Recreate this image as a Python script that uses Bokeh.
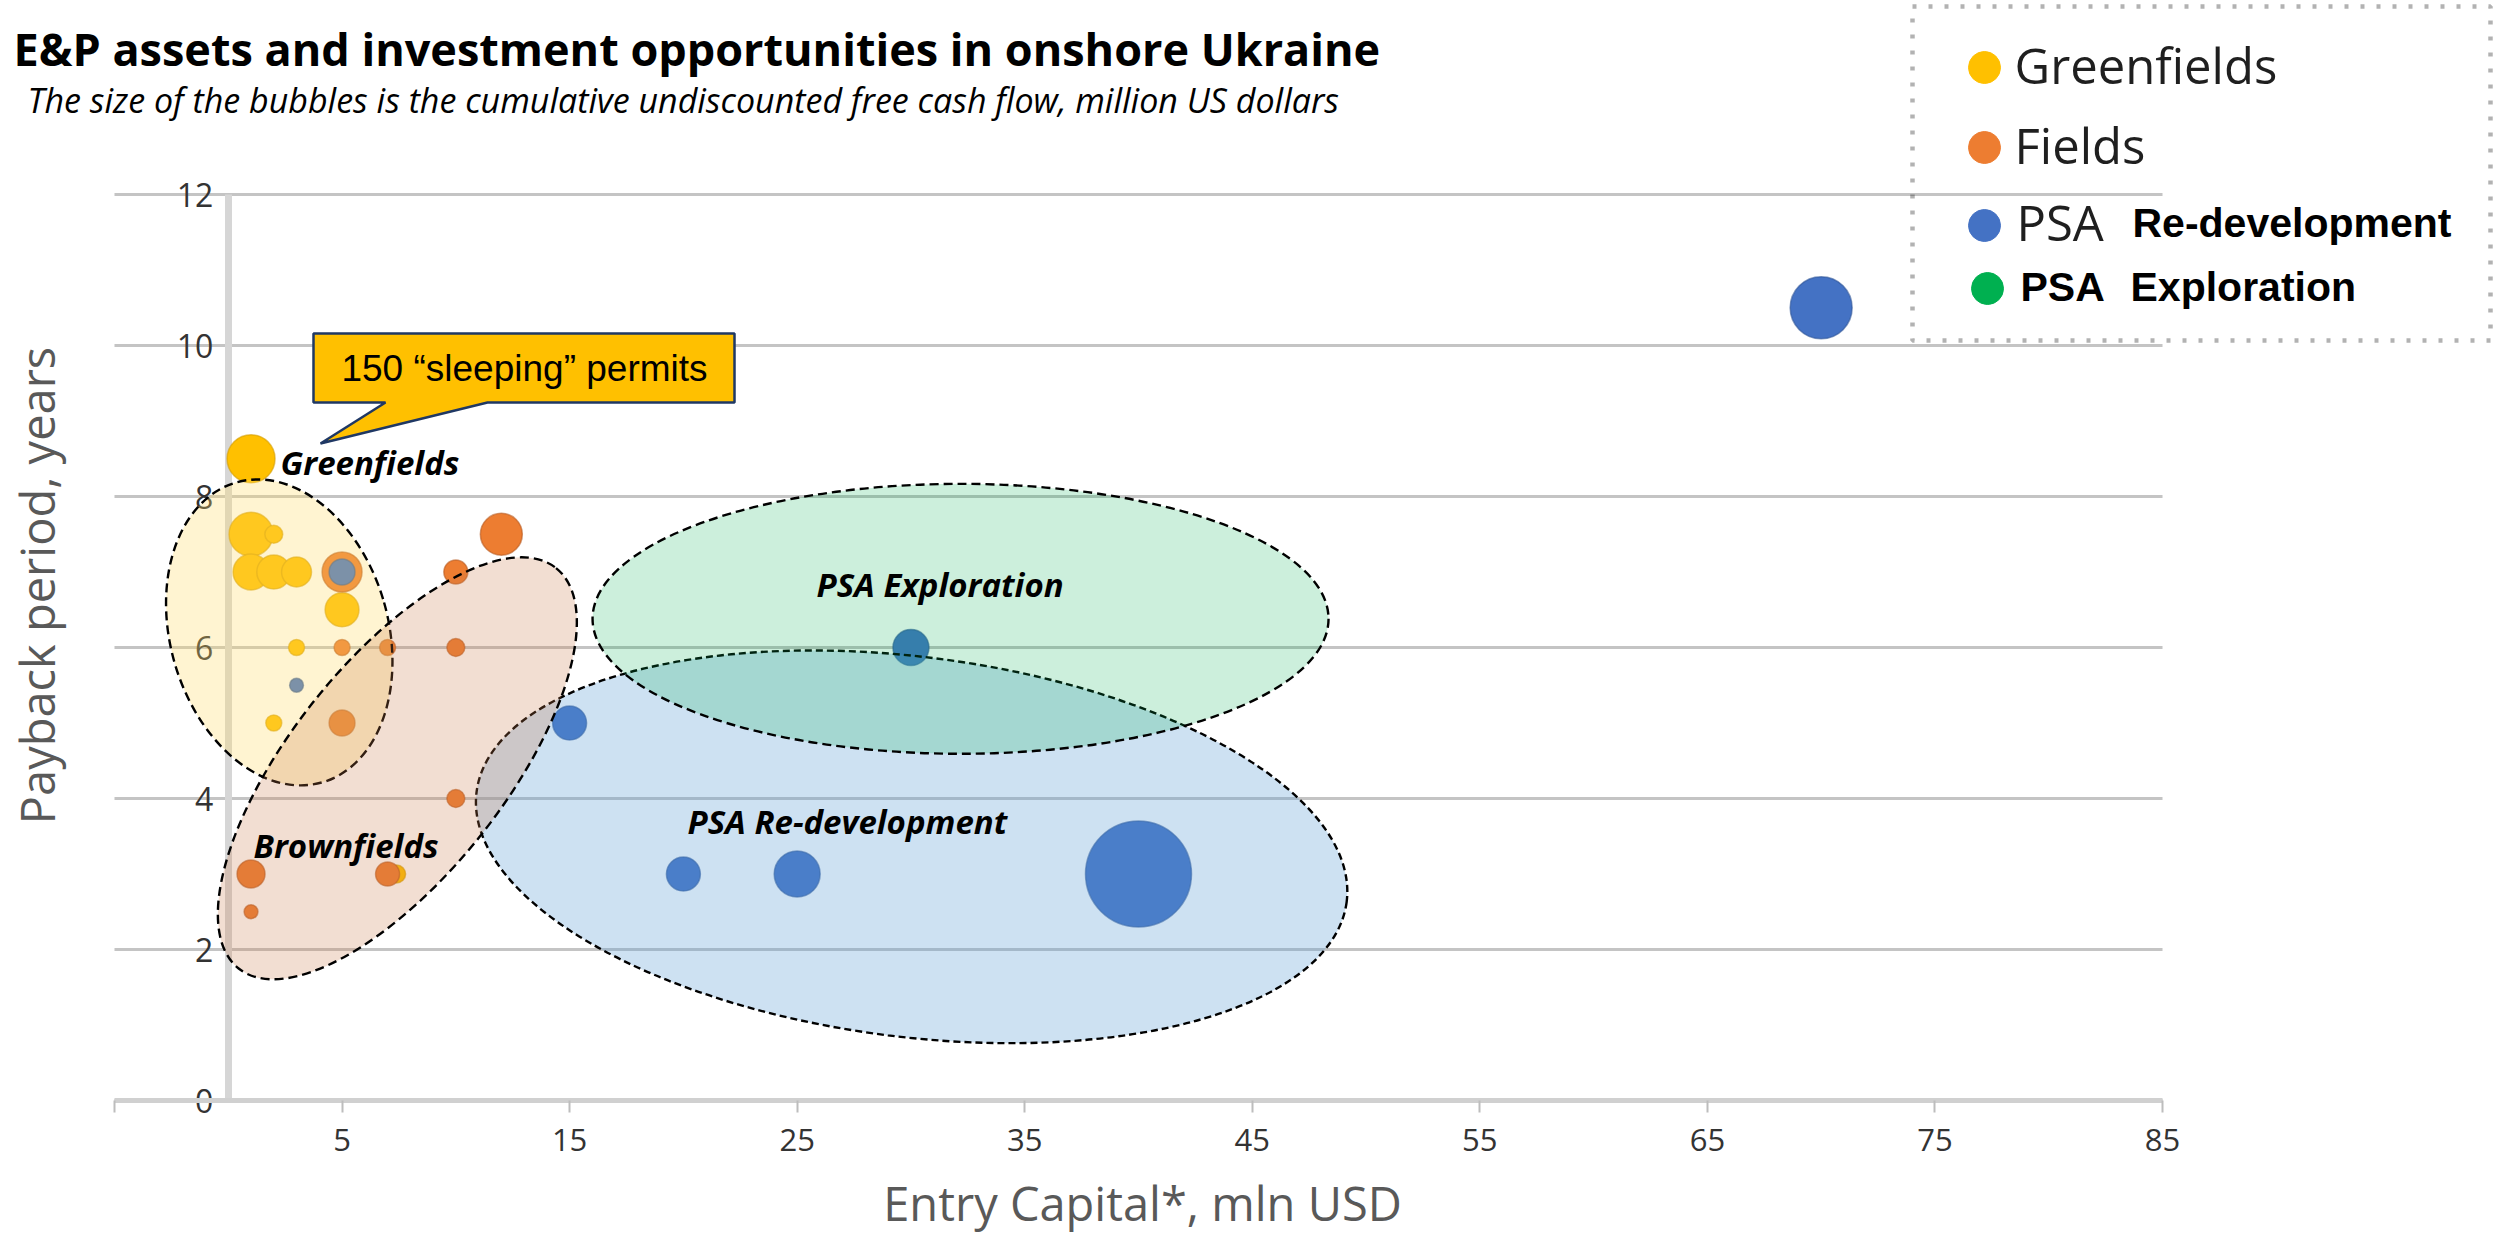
import math
from bokeh.plotting import figure
from bokeh.models import ColumnDataSource, FixedTicker, Label, BoxAnnotation, Range1d
from bokeh.embed import file_html
from bokeh.resources import INLINE

# ---------------- data ----------------
greenfield_capital = [1, 1, 2, 1, 2, 3, 5, 3, 2, 7.4]
greenfield_payback = [8.5, 7.5, 7.5, 7, 7, 7, 6.5, 6, 5, 3]
greenfield_fcf = [144, 121, 20, 81, 72, 56, 72, 16, 16, 20]

field_capital = [5, 12, 10, 5, 7, 10, 5, 10, 1, 7, 1]
field_payback = [7, 7.5, 7, 6, 6, 6, 5, 4, 3, 3, 2.5]
field_fcf = [100, 110, 36, 16, 16, 20, 42, 20, 49, 36, 12]

psa_capital = [5, 3, 15, 20, 25, 30, 40, 70]
psa_payback = [7, 5.5, 5, 3, 3, 6, 3, 10.5]
psa_fcf = [42, 12, 72, 72, 132, 81, 702, 240]

x_ticks = [-5, 5, 15, 25, 35, 45, 55, 65, 75, 85]
y_ticks = [0, 2, 4, 6, 8, 10, 12]

legend_names = ["Greenfields", "Fields", "PSA", "PSA"]

# ---------------- layout helpers ----------------
W, H = 2496, 1238
XMIN, XMAX, YMIN, YMAX = -5, 85, 0, 12          # plot area in data units
PL, PR, PT, PB = 114, 2162, 194, 1100            # plot area in page px
XS = (PR - PL) / (XMAX - XMIN)
YS = (PB - PT) / (YMAX - YMIN)
K = 0.37                                         # baseline correction (em)


def px_x(px):  # page px -> data x
    return (px - PL) / XS + XMIN


def px_y(py):  # page px -> data y
    return (PB - py) / YS + YMIN


def bubble_size(fcf):
    return [4 * math.sqrt(v) for v in fcf]


YELLOW, ORANGE, BLUE, GREEN = "#ffc000", "#ed7d31", "#4472c4", "#00b050"

p = figure(width=W, height=H,
           x_range=Range1d(px_x(0), px_x(W)), y_range=Range1d(px_y(H), px_y(0)),
           output_backend="svg", toolbar_location=None, min_border=0)
p.title.visible = False
p.outline_line_color = None
p.background_fill_color = "white"
p.border_fill_color = "white"


def add_text(txt, xp, bp, size, font="Open Sans", style="normal", color="black",
             align="left", angle=0.0):
    if angle == 0:
        x, y = px_x(xp), px_y(bp - K * size)
    else:
        x, y = px_x(xp - K * size), px_y(bp)
    p.add_layout(Label(x=x, y=y, text=txt, text_align=align, text_baseline="alphabetic",
                       text_font=font, text_font_style=style, text_font_size=f"{size}px",
                       text_color=color, angle=angle))


# axes (drawn at their data locations)
p.xaxis.fixed_location = 0
p.xaxis.bounds = (XMIN, XMAX)
p.xaxis.ticker = FixedTicker(ticks=x_ticks)
p.xaxis.major_label_overrides = {-5: ""}
p.xaxis.axis_line_color = "#d0d0d0"
p.xaxis.axis_line_width = 5
p.xaxis.major_tick_line_color = "#bdbdbd"
p.xaxis.major_tick_line_width = 2
p.xaxis.major_tick_out = 12
p.xaxis.major_tick_in = 0
p.xaxis.minor_tick_line_color = None
p.xaxis.major_label_standoff = 16
p.xaxis.major_label_text_font = "Open Sans"
p.xaxis.major_label_text_font_size = "31px"
p.xaxis.major_label_text_color = "#333333"

p.yaxis.fixed_location = 0
p.yaxis.bounds = (YMIN, YMAX)
p.yaxis.ticker = FixedTicker(ticks=y_ticks)
p.yaxis.axis_line_color = "#d6d6d6"
p.yaxis.axis_line_width = 7
p.yaxis.major_tick_line_color = None
p.yaxis.major_tick_out = 0
p.yaxis.major_tick_in = 0
p.yaxis.minor_tick_line_color = None
p.yaxis.major_label_standoff = 15
p.yaxis.major_label_text_font = "Open Sans"
p.yaxis.major_label_text_font_size = "32px"
p.yaxis.major_label_text_color = "#333333"
p.yaxis.level = "underlay"

p.grid.visible = False
# horizontal gridlines across the plot area
p.segment(x0=[XMIN] * len(y_ticks), x1=[XMAX] * len(y_ticks), y0=y_ticks, y1=y_ticks,
          line_color="#c4c4c4", line_width=3, level="underlay")

# bubbles
for cx, cy, fcf, col, edge in [
    (greenfield_capital, greenfield_payback, greenfield_fcf, YELLOW, "#d39c00"),
    (field_capital, field_payback, field_fcf, ORANGE, "#b85a20"),
    (psa_capital, psa_payback, psa_fcf, BLUE, "#2f5597"),
]:
    src = ColumnDataSource(dict(x=cx, y=cy, s=bubble_size(fcf)))
    p.scatter("x", "y", size="s", source=src, fill_color=col, line_color=edge,
              line_width=1.5, line_alpha=0.6)

# highlighted regions (annotation ellipses): center in data, size in px, angle deg
regions = [
    (2.24, 6.20, 218, 312, 15.9, "#ffd966", 0.30, "9 5"),
    (30.03, 3.36, 877, 380, -7.2, "#5b9bd5", 0.30, "7 4"),
    (7.43, 4.40, 511, 214, 51.6, "#cc7a4a", 0.25, "9 5"),
    (32.18, 6.38, 736, 270, 0.0, GREEN, 0.20, "9 5"),
]
for cx, cy, w, h, ang, col, alpha, dash in regions:
    p.ellipse(x=[cx], y=[cy], width=[w], height=[h], angle=[math.radians(ang)],
              width_units="screen", height_units="screen",
              fill_color=col, fill_alpha=alpha, line_color="black",
              line_width=2.4, line_dash=dash)

# callout
callout_px = [(313, 333), (734, 333), (734, 402), (487, 402), (320, 443), (385, 402), (313, 402)]
p.patch([px_x(a) for a, b in callout_px], [px_y(b) for a, b in callout_px],
        fill_color="#ffc000", line_color="#1f3864", line_width=2.5)
add_text("150 \u201csleeping\u201d permits", 524, 382, 37, font="Liberation Sans", align="center")

# region labels
for txt, lx, ly in [("Greenfields", 280, 474), ("Brownfields", 253, 857),
                    ("PSA Re-development", 687, 833), ("PSA Exploration", 816, 596)]:
    add_text(txt, lx, ly, 33, style="bold italic")

# titles
add_text("E&P assets and investment opportunities in onshore Ukraine", 13, 65, 45, style="bold")
add_text("The size of the bubbles is the cumulative undiscounted free cash flow, million US dollars",
         27, 112, 34, style="italic")

# axis titles
add_text("Entry Capital*, mln USD", 1142, 1220, 47, color="#595959", align="center")
add_text("Payback period, years", 54, 585, 47, color="#595959", align="center", angle=math.pi / 2)

# legend box
p.add_layout(BoxAnnotation(left=px_x(1912), right=px_x(2490), top=px_y(6), bottom=px_y(340),
                           fill_alpha=0, line_color="black", line_width=4.5, line_dash="4 12",
                           level="overlay"))
dot_px = [(1984, 67), (1984, 147), (1984, 225), (1987, 288)]
p.scatter([px_x(a) for a, b in dot_px], [px_y(b) for a, b in dot_px], size=32,
          color=[YELLOW, ORANGE, BLUE, GREEN], level="overlay")
for txt, lx, ly in [(legend_names[0], 2014, 83), (legend_names[1], 2014, 163), (legend_names[2], 2016, 240)]:
    add_text(txt, lx, ly, 49, color="#1f1f1f")
for txt, lx, ly in [("Re-development", 2132, 238), (legend_names[3], 2020, 302), ("Exploration", 2130, 302)]:
    add_text(txt, lx, ly, 41, font="Liberation Sans", style="bold")

open("out.html", "w").write(file_html(p, INLINE))
